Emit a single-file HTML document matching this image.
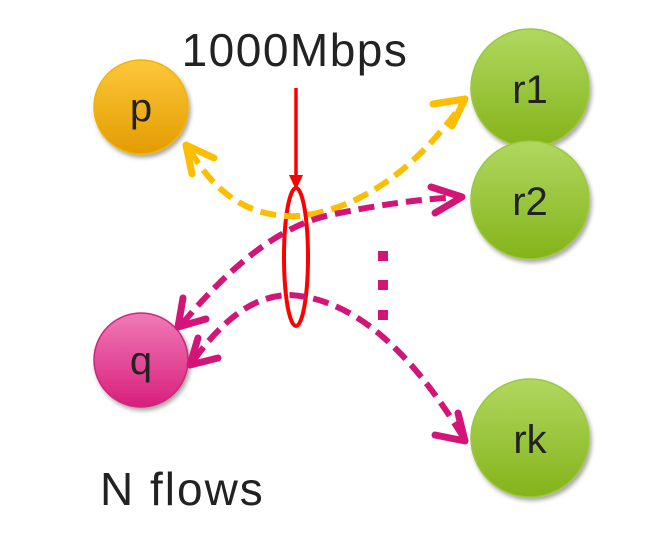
<!DOCTYPE html>
<html><head><meta charset="utf-8"><style>
body{margin:0;background:#fff;}
svg{display:block;font-family:"Liberation Sans",sans-serif;}
</style></head><body>
<svg width="651" height="538" viewBox="0 0 651 538">
<defs>
<linearGradient id="gy" x1="0" y1="0" x2="0" y2="1"><stop offset="0" stop-color="#fcc73a"/><stop offset="1" stop-color="#e39c00"/></linearGradient>
<linearGradient id="gg" x1="0" y1="0" x2="0" y2="1"><stop offset="0" stop-color="#b0d860"/><stop offset="1" stop-color="#84b31a"/></linearGradient>
<linearGradient id="gm" x1="0" y1="0" x2="0" y2="1"><stop offset="0" stop-color="#f07ab8"/><stop offset="1" stop-color="#d81f7a"/></linearGradient>
<filter id="sh"><feDropShadow dx="2" dy="3" stdDeviation="2" flood-opacity="0.35"/></filter>
</defs>
<g filter="url(#sh)">
<circle cx="141" cy="107" r="47" fill="url(#gy)" stroke="#f0b400" stroke-width="1.5"/>
<circle cx="141" cy="360" r="47" fill="url(#gm)" stroke="#d0257a" stroke-width="1.5"/>
<circle cx="530" cy="88" r="59" fill="url(#gg)" stroke="#9cc83a" stroke-width="1.5"/>
<circle cx="530" cy="200" r="59" fill="url(#gg)" stroke="#9cc83a" stroke-width="1.5"/>
<circle cx="530" cy="438" r="59" fill="url(#gg)" stroke="#9cc83a" stroke-width="1.5"/>
</g>
<g font-size="40" fill="#222" text-anchor="middle">
<text x="141" y="121">p</text>
<text x="141" y="374">q</text>
<text x="530" y="103">r1</text>
<text x="530" y="215">r2</text>
<text x="530" y="453">rk</text>
</g>
<text x="295" y="66" font-size="46" letter-spacing="1.5" fill="#222" text-anchor="middle">1000Mbps</text>
<text x="100" y="505" font-size="46" letter-spacing="2" fill="#222">N flows</text>
<line x1="296" y1="88" x2="296" y2="178" stroke="#f00" stroke-width="3.5"/>
<polygon points="289,175 303,175 296,190" fill="#f00"/>
<ellipse cx="296" cy="257" rx="12" ry="69" fill="none" stroke="#f00" stroke-width="4"/>
<g fill="none" stroke-width="6" stroke-dasharray="16,8" stroke-linecap="butt">
<path d="M190,150 Q230,220 300,216 Q390,205 463,103" stroke="#fdbd00"/>
<path d="M182,324 Q260,230 330,215 Q400,200 460,197" stroke="#d31577"/>
<path d="M194,360 Q240,295 290,295 Q380,300 463,437" stroke="#d31577"/>
</g>
<g fill="none" stroke-width="7" stroke-linecap="round" stroke-linejoin="round">
<path d="M214,158 L186,145 L192,174" stroke="#fdbd00"/>
<path d="M433,104 L465,99 L452,126" stroke="#fdbd00"/>
<path d="M431,187 L462,197 L435,213" stroke="#d31577"/>
<path d="M183,298 L178,327 L206,319" stroke="#d31577"/>
<path d="M198,338 L190,365 L218,358" stroke="#d31577"/>
<path d="M435,435 L465,441 L458,413" stroke="#d31577"/>
</g>
<g fill="#d31577">
<rect x="378" y="251" width="10" height="10"/>
<rect x="378" y="280" width="10" height="10"/>
<rect x="378" y="310" width="10" height="10"/>
</g>
</svg>
</body></html>
